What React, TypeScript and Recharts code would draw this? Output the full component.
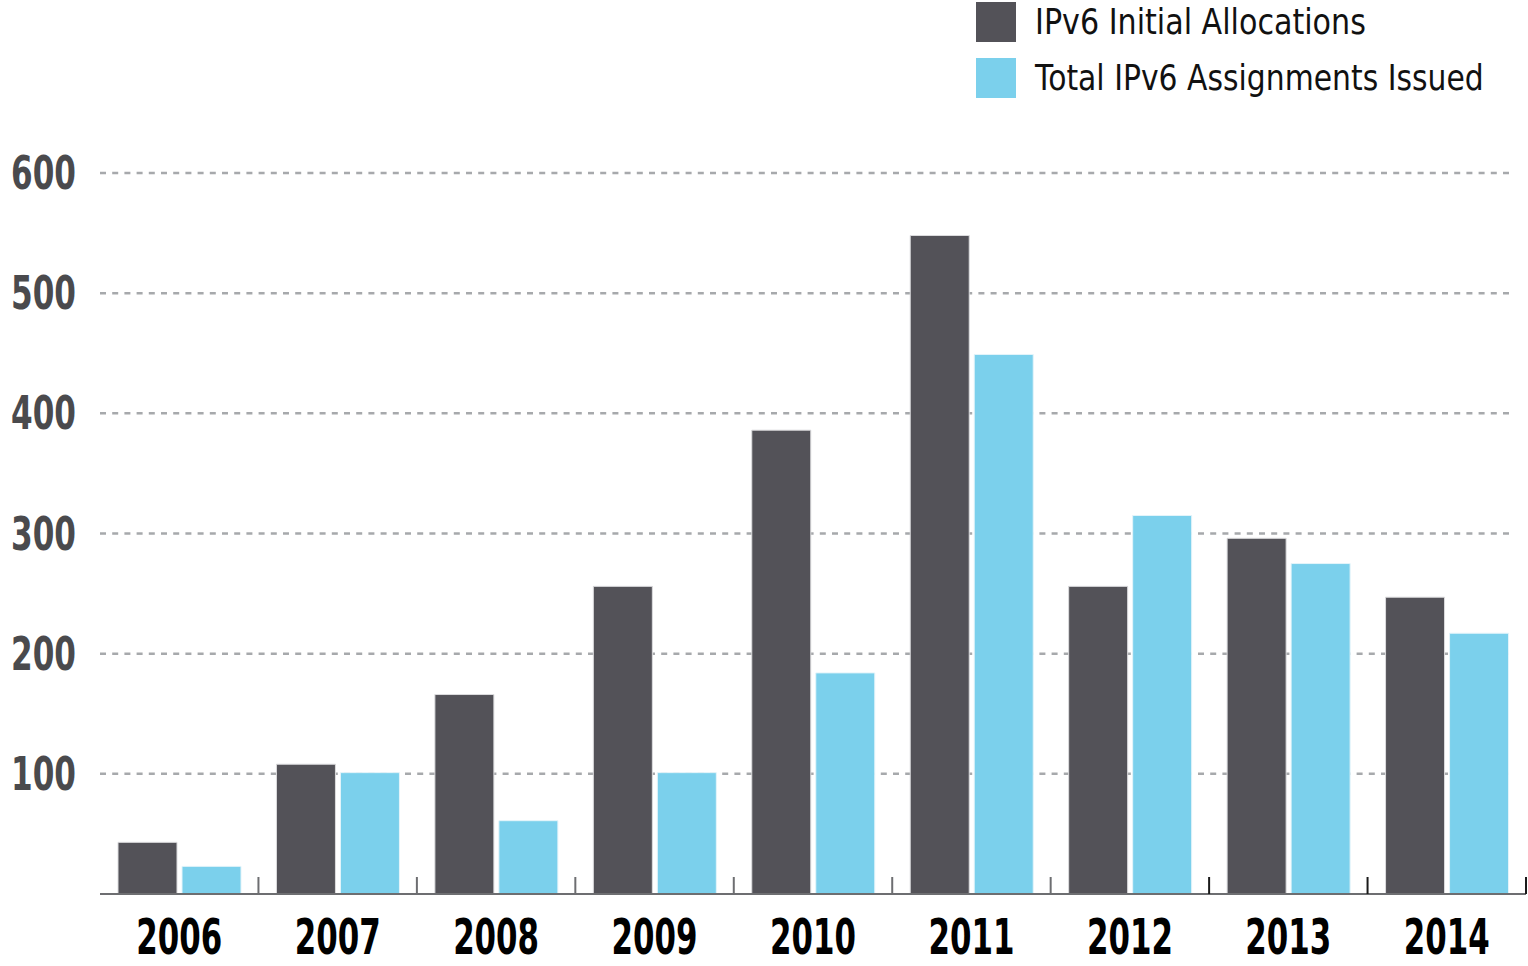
import React, { useLayoutEffect, useRef, useState } from 'react';
import { BarChart, Bar, XAxis, YAxis, CartesianGrid, Legend } from 'recharts';

const years = ['2006', '2007', '2008', '2009', '2010', '2011', '2012', '2013', '2014'];
const initialAllocations = [43, 108, 166, 256, 386, 548, 256, 296, 247];
const totalAssignments = [23, 101, 61, 101, 184, 449, 315, 275, 217];
const yTicks = [0, 100, 200, 300, 400, 500, 600];
const seriesNames = ['IPv6 Initial Allocations', 'Total IPv6 Assignments Issued'];

const data = years.map((y, i) => ({
  year: y,
  alloc: initialAllocations[i],
  assign: totalAssignments[i],
}));

const DARK = '#535258';
const LIGHT = '#7bd0ec';
const BOLD_FONT = '"DejaVu Sans", "Open Sans", sans-serif';

// Text squeezed horizontally to a target width (emulates a condensed face).
const FitText = (props: any) => {
  const { x, y, width, anchor, children, ...rest } = props;
  const ref = useRef<SVGTextElement>(null);
  const [s, setS] = useState(1);
  useLayoutEffect(() => {
    if (ref.current) {
      const w = ref.current.getComputedTextLength();
      if (w > 0) setS(width / w);
    }
  }, [children, width]);
  return (
    <text ref={ref} x={0} y={0} transform={`translate(${x},${y}) scale(${s},1)`} textAnchor={anchor} {...rest}>
      {children}
    </text>
  );
};

const YTick = (props: any) => {
  const { y, payload } = props;
  if (payload.value === 0) return null;
  return (
    <FitText x={76} y={y + 16} width={65} anchor="end" fontFamily={BOLD_FONT} fontWeight="bold" fontSize={46} fill="#4a4a4d">
      {String(payload.value)}
    </FitText>
  );
};

const XTick = (props: any) => {
  const { x, y, payload, index } = props;
  const half = payload.offset || 0;
  const bx = x + half;
  return (
    <g>
      <line x1={bx} x2={bx} y1={y} y2={y - 17} stroke={index >= 6 ? '#1a1a1a' : '#6d6e71'} strokeWidth={2} />
      <FitText x={x} y={y + 60} width={86} anchor="middle" fontFamily={BOLD_FONT} fontWeight="bold" fontSize={50} fill="#000">
        {String(payload.value)}
      </FitText>
    </g>
  );
};

const gridLine = (props: any) => {
  const { x1, x2, y1, y2, key } = props;
  if (y1 > 885) return <g key={key} />;
  return (
    <line key={key} x1={x1} x2={x2 - 16} y1={y1} y2={y2} stroke="#a7a9ac" strokeWidth={2.5} strokeDasharray="6 6.2" />
  );
};

const legendWidths = [331, 449];

const LegendContent = (props: any) => {
  const { payload } = props;
  return (
    <svg width={552} height={104} style={{ display: 'block' }}>
      {(payload || []).map((entry: any, i: number) => (
        <g key={entry.value}>
          <rect x={0} y={2 + i * 56} width={40} height={40} fill={entry.color} />
          <FitText
            x={59}
            y={34 + i * 56}
            width={legendWidths[i]}
            anchor="start"
            fontFamily='"DejaVu Sans", "Open Sans", sans-serif'
            fontSize={36}
            fill="#111"
          >
            {entry.value}
          </FitText>
        </g>
      ))}
    </svg>
  );
};

export default function App() {
  return (
    <div style={{ position: 'absolute', left: 0, top: 0, width: 1528, height: 966, background: '#fff' }}>
      <BarChart
        width={1528}
        height={966}
        data={data}
        margin={{ top: 173, right: 2, bottom: 0, left: 0 }}
        barCategoryGap={18}
        barGap={5}
      >
        <CartesianGrid vertical={false} horizontal={gridLine} />
        <XAxis
          dataKey="year"
          height={72}
          tickLine={false}
          tickSize={0}
          tickMargin={0}
          axisLine={{ stroke: '#6d6e71', strokeWidth: 2 }}
          tick={<XTick />}
          interval={0}
        />
        <YAxis
          width={100}
          domain={[0, 600]}
          ticks={yTicks}
          axisLine={false}
          tickLine={false}
          tick={<YTick />}
          interval={0}
        />
        <Legend
          layout="horizontal"
          verticalAlign="middle"
          align="center"
          wrapperStyle={{ position: 'absolute', top: 0, left: 976, width: 552, height: 104 }}
          content={<LegendContent />}
        />
        <Bar dataKey="alloc" name={seriesNames[0]} fill={DARK} stroke="#dcdcde" strokeWidth={1} isAnimationActive={false} />
        <Bar dataKey="assign" name={seriesNames[1]} fill={LIGHT} stroke="#e4f4fa" strokeWidth={1} isAnimationActive={false} />
      </BarChart>
    </div>
  );
}
